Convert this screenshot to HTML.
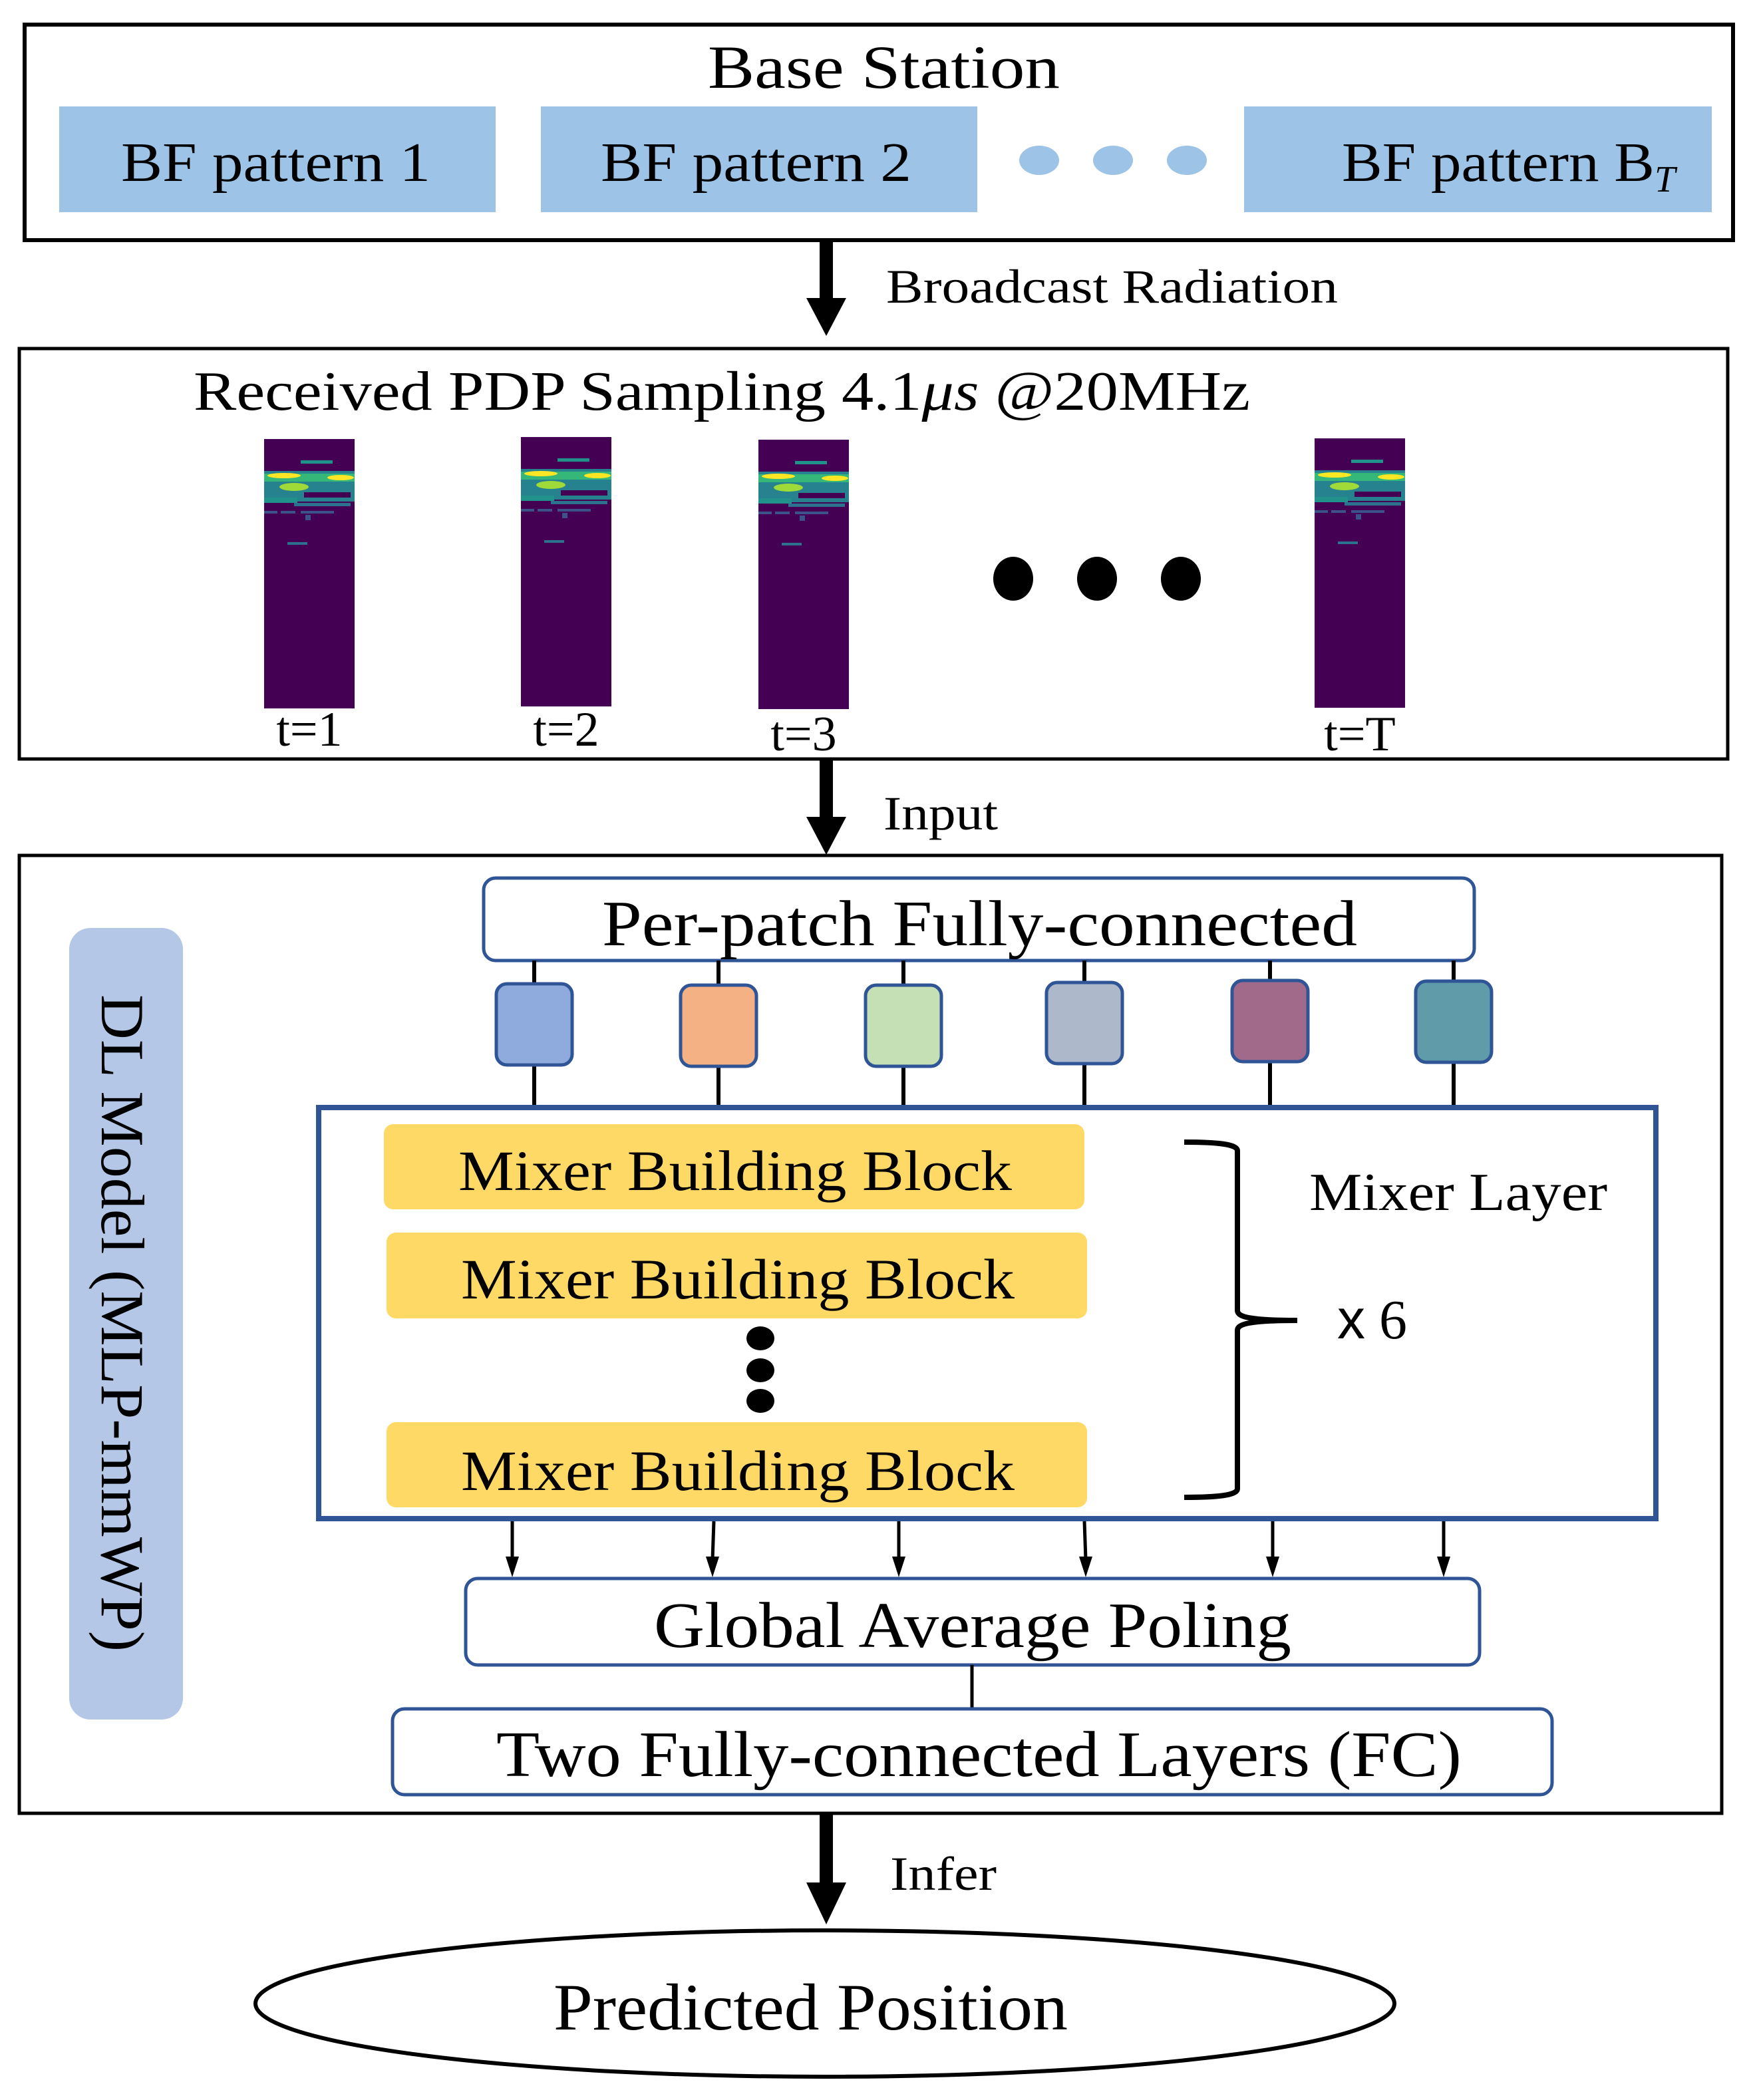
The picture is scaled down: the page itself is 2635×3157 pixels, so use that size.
<!DOCTYPE html>
<html><head><meta charset="utf-8"><style>html,body{margin:0;padding:0;background:#fff}svg{display:block}text{font-family:"Liberation Serif","Times New Roman",serif;fill:#000}</style></head>
<body>
<svg width="2635" height="3157" viewBox="0 0 2635 3157" xmlns="http://www.w3.org/2000/svg" font-family="Liberation Serif, Times New Roman, serif">
<defs>
<g id="hm">
<rect x="0" y="0" width="136" height="405" fill="#440154"/>
<rect x="0" y="48" width="136" height="46" fill="#26828e"/>
<rect x="0" y="52" width="136" height="12" fill="#35b779"/>
<ellipse cx="30" cy="55" rx="25" ry="4" fill="#fde725"/>
<ellipse cx="115" cy="58" rx="20" ry="4" fill="#fde725"/>
<ellipse cx="45" cy="72" rx="22" ry="6" fill="#a0da39"/>
<rect x="60" y="80" width="70" height="8" fill="#440154"/>
<rect x="0" y="88" width="50" height="8" fill="#21918c"/>
<rect x="45" y="96" width="85" height="5" fill="#2c728e"/>
<rect x="55" y="32" width="48" height="5" fill="#21918c"/>
<rect x="0" y="108" width="20" height="4" fill="#3b528b"/>
<rect x="25" y="108" width="22" height="4" fill="#3b528b"/>
<rect x="55" y="108" width="50" height="4" fill="#3b528b"/>
<rect x="62" y="114" width="8" height="8" fill="#3b528b"/>
<rect x="35" y="155" width="30" height="4" fill="#2c728e"/>
</g>
</defs>

<rect x="37" y="37" width="2568" height="324" fill="none" stroke="#000" stroke-width="6"/>
<text x="1064" y="132" font-size="92" textLength="529" lengthAdjust="spacingAndGlyphs">Base Station</text>
<rect x="89" y="160" width="656" height="159" fill="#9dc3e6"/>
<rect x="813" y="160" width="656" height="159" fill="#9dc3e6"/>
<rect x="1870" y="160" width="703" height="159" fill="#9dc3e6"/>
<text x="182" y="272" font-size="84" textLength="465" lengthAdjust="spacingAndGlyphs">BF pattern 1</text>
<text x="903" y="272" font-size="84" textLength="467" lengthAdjust="spacingAndGlyphs">BF pattern 2</text>
<text x="2017" y="272" font-size="84"><tspan textLength="470" lengthAdjust="spacingAndGlyphs">BF pattern B</tspan><tspan font-size="56" font-style="italic" dy="16">T</tspan></text>
<ellipse cx="1562" cy="241" rx="30" ry="22" fill="#9dc3e6"/>
<ellipse cx="1673" cy="241" rx="30" ry="22" fill="#9dc3e6"/>
<ellipse cx="1784" cy="241" rx="30" ry="22" fill="#9dc3e6"/>

<rect x="1232" y="361" width="20" height="90" fill="#000"/>
<polygon points="1212,448 1272,448 1242,505" fill="#000"/>
<text x="1332" y="455" font-size="72" textLength="679" lengthAdjust="spacingAndGlyphs">Broadcast Radiation</text>

<rect x="29" y="524" width="2568" height="617" fill="none" stroke="#000" stroke-width="5"/>
<text x="291" y="616" font-size="84" textLength="1588" lengthAdjust="spacingAndGlyphs">Received PDP  Sampling 4.1<tspan font-style="italic">μs</tspan> @20MHz</text>
<use href="#hm" x="397" y="660"/>
<use href="#hm" x="783" y="657"/>
<use href="#hm" x="1140" y="661"/>
<use href="#hm" x="1976" y="659"/>
<text x="465" y="1121" font-size="74" text-anchor="middle">t=1</text>
<text x="851" y="1121" font-size="74" text-anchor="middle">t=2</text>
<text x="1208" y="1128" font-size="74" text-anchor="middle">t=3</text>
<text x="2044" y="1128" font-size="74" text-anchor="middle">t=T</text>
<ellipse cx="1523" cy="870" rx="30" ry="33" fill="#000"/>
<ellipse cx="1649" cy="870" rx="30" ry="33" fill="#000"/>
<ellipse cx="1775" cy="870" rx="30" ry="33" fill="#000"/>

<rect x="1232" y="1141" width="20" height="90" fill="#000"/>
<polygon points="1212,1228 1272,1228 1242,1285" fill="#000"/>
<text x="1328" y="1247" font-size="72" textLength="172" lengthAdjust="spacingAndGlyphs">Input</text>

<rect x="29" y="1286" width="2559" height="1440" fill="none" stroke="#000" stroke-width="5"/>
<rect x="104" y="1395" width="171" height="1190" rx="32" fill="#b4c7e7"/>
<text transform="translate(153,1989) rotate(90)" font-size="92" text-anchor="middle" textLength="988" lengthAdjust="spacingAndGlyphs">DL Model (MLP-mmWP)</text>

<rect x="727" y="1320" width="1489" height="124" rx="18" fill="#fff" stroke="#2f5597" stroke-width="5"/>
<text x="905" y="1421" font-size="98" textLength="1135" lengthAdjust="spacingAndGlyphs">Per-patch Fully-connected</text>
<g stroke="#000" stroke-width="6">
<line x1="803" y1="1444" x2="803" y2="1662"/>
<line x1="1080" y1="1444" x2="1080" y2="1662"/>
<line x1="1358" y1="1444" x2="1358" y2="1662"/>
<line x1="1630" y1="1444" x2="1630" y2="1662"/>
<line x1="1909" y1="1444" x2="1909" y2="1662"/>
<line x1="2185" y1="1444" x2="2185" y2="1662"/>
</g>
<g stroke="#2f5597" stroke-width="5">
<rect x="746" y="1479" width="114" height="122" rx="16" fill="#8faadc"/>
<rect x="1023" y="1481" width="114" height="122" rx="16" fill="#f4b183"/>
<rect x="1301" y="1481" width="114" height="122" rx="16" fill="#c5e0b4"/>
<rect x="1573" y="1477" width="114" height="122" rx="16" fill="#adb9ca"/>
<rect x="1852" y="1474" width="114" height="122" rx="16" fill="#a26a8a"/>
<rect x="2128" y="1475" width="114" height="122" rx="16" fill="#5f9ba8"/>
</g>

<rect x="479" y="1665" width="2010" height="618" fill="#fff" stroke="#2f5597" stroke-width="8"/>
<rect x="577" y="1690" width="1053" height="128" rx="14" fill="#ffd966"/>
<rect x="581" y="1853" width="1053" height="129" rx="14" fill="#ffd966"/>
<rect x="581" y="2138" width="1053" height="128" rx="14" fill="#ffd966"/>
<text x="689" y="1789" font-size="86" textLength="832" lengthAdjust="spacingAndGlyphs">Mixer Building Block</text>
<text x="693" y="1952" font-size="86" textLength="832" lengthAdjust="spacingAndGlyphs">Mixer Building Block</text>
<text x="693" y="2240" font-size="86" textLength="832" lengthAdjust="spacingAndGlyphs">Mixer Building Block</text>
<ellipse cx="1143" cy="2012" rx="21" ry="18" fill="#000"/>
<ellipse cx="1143" cy="2060" rx="21" ry="18" fill="#000"/>
<ellipse cx="1143" cy="2106" rx="21" ry="18" fill="#000"/>
<path d="M1780,1717 C1830,1717 1860,1720 1860,1730 L1860,1970 C1860,1980 1880,1985 1950,1985 C1880,1985 1860,1990 1860,2000 L1860,2238 C1860,2248 1830,2251 1780,2251" fill="none" stroke="#000" stroke-width="8"/>
<text x="1968" y="1819" font-size="80" textLength="448" lengthAdjust="spacingAndGlyphs">Mixer Layer</text>
<text x="2010" y="2012" font-size="84"><tspan font-family="Liberation Sans, Arial, sans-serif">x</tspan> 6</text>

<g stroke="#000" stroke-width="5">
<line x1="770" y1="2287" x2="770" y2="2345"/>
<line x1="1073" y1="2287" x2="1071" y2="2345"/>
<line x1="1351" y1="2287" x2="1351" y2="2345"/>
<line x1="1630" y1="2287" x2="1632" y2="2345"/>
<line x1="1913" y1="2287" x2="1913" y2="2345"/>
<line x1="2170" y1="2287" x2="2170" y2="2345"/>
</g>
<g fill="#000">
<polygon points="760,2340 780,2340 770,2371"/>
<polygon points="1061,2340 1081,2340 1071,2371"/>
<polygon points="1341,2340 1361,2340 1351,2371"/>
<polygon points="1622,2340 1642,2340 1632,2371"/>
<polygon points="1903,2340 1923,2340 1913,2371"/>
<polygon points="2160,2340 2180,2340 2170,2371"/>
</g>
<rect x="700" y="2373" width="1524" height="130" rx="18" fill="#fff" stroke="#2f5597" stroke-width="5"/>
<text x="983" y="2476" font-size="98" textLength="958" lengthAdjust="spacingAndGlyphs">Global Average Poling</text>
<line x1="1461" y1="2503" x2="1461" y2="2569" stroke="#000" stroke-width="5"/>
<rect x="590" y="2569" width="1743" height="129" rx="18" fill="#fff" stroke="#2f5597" stroke-width="5"/>
<text x="746" y="2670" font-size="98" textLength="1451" lengthAdjust="spacingAndGlyphs">Two Fully-connected Layers (FC)</text>

<rect x="1232" y="2726" width="20" height="110" fill="#000"/>
<polygon points="1212,2830 1272,2830 1242,2893" fill="#000"/>
<text x="1338" y="2841" font-size="72" textLength="160" lengthAdjust="spacingAndGlyphs">Infer</text>

<ellipse cx="1240" cy="3012" rx="856" ry="110" fill="none" stroke="#000" stroke-width="6"/>
<text x="832" y="3051" font-size="100" textLength="773" lengthAdjust="spacingAndGlyphs">Predicted Position</text>
</svg>
</body></html>
